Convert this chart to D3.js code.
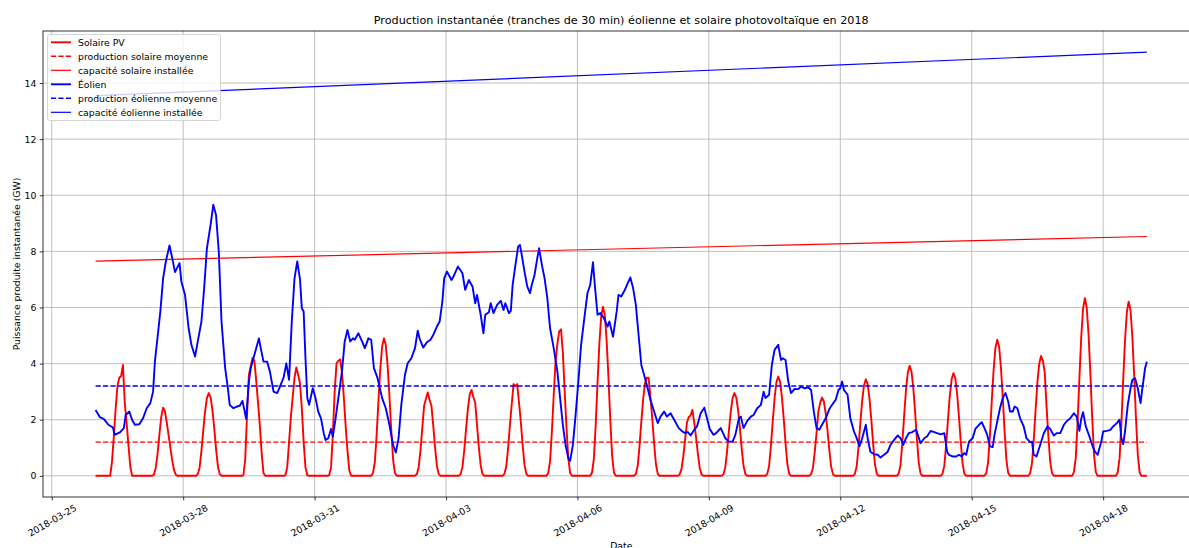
<!DOCTYPE html>
<html>
<head>
<meta charset="utf-8">
<script src="https://cdnjs.cloudflare.com/ajax/libs/d3/7.8.5/d3.min.js"></script>
<style>
    body { margin: 0; background: #ffffff; }
    svg text { font-family: "DejaVu Sans", sans-serif; fill: #000000; }
</style>
</head>
<body>
<svg id="chart" width="1189" height="548"></svg>
<script>
// valeurs (GW)
var debutSerie = "2018-03-26 00:00";
var finSerie = "2018-04-19 00:00";

var jours = ["2018-03-26", "2018-03-27", "2018-03-28", "2018-03-29", "2018-03-30", "2018-03-31",
    "2018-04-01", "2018-04-02", "2018-04-03", "2018-04-04", "2018-04-05", "2018-04-06",
    "2018-04-07", "2018-04-08", "2018-04-09", "2018-04-10", "2018-04-11", "2018-04-12",
    "2018-04-13", "2018-04-14", "2018-04-15", "2018-04-16", "2018-04-17", "2018-04-18"];

// heures de la journée pour le solaire (la nuit reste à 0)
var heuresSolaire = [7, 8, 9, 10, 11, 12, 13, 14, 15, 16, 17, 18, 19, 20, 21];
var solaire = [
    [0, 0, 0.5, 1.4, 2.4, 3.2, 3.5, 3.55, 3.95, 2.6, 1.9, 1.1, 0.35, 0, 0],
    [0, 0.05, 0.3, 0.8, 1.5, 2.1, 2.43, 2.3, 1.9, 1.45, 1.0, 0.55, 0.2, 0.03, 0],
    [0, 0.06, 0.3, 0.89, 1.62, 2.3, 2.77, 2.95, 2.8, 2.36, 1.71, 0.97, 0.35, 0.06, 0],
    [0, 0, 0.02, 0.6, 2.2, 3.6, 3.9, 4.2, 4.1, 3.4, 2.6, 1.8, 0.8, 0.1, 0],
    [0, 0.02, 0.3, 1.2, 2.1, 2.8, 3.5, 3.86, 3.6, 3.3, 2.4, 1.2, 0.3, 0.02, 0],
    [0, 0.02, 0.3, 1.5, 3.0, 4.0, 4.1, 4.15, 3.7, 2.8, 1.8, 0.9, 0.2, 0, 0],
    [0, 0.1, 0.49, 1.47, 2.7, 3.82, 4.61, 4.9, 4.66, 3.92, 2.84, 1.62, 0.59, 0.1, 0],
    [0, 0.06, 0.3, 0.9, 1.7, 2.5, 2.75, 2.97, 2.7, 2.5, 1.8, 1.0, 0.36, 0.06, 0],
    [0, 0.06, 0.31, 0.92, 1.68, 2.4, 2.9, 3.06, 2.8, 2.6, 1.8, 1.0, 0.37, 0.06, 0],
    [0, 0.07, 0.33, 0.98, 1.8, 2.55, 3.27, 3.2, 3.27, 2.6, 1.9, 1.08, 0.39, 0.07, 0],
    [0, 0.1, 0.52, 1.57, 2.87, 4.07, 4.7, 5.15, 5.22, 4.4, 3.03, 1.72, 0.63, 0.1, 0],
    [0, 0.12, 0.6, 1.81, 3.32, 4.7, 5.67, 6.03, 5.73, 4.82, 3.5, 1.99, 0.72, 0.12, 0],
    [0, 0.07, 0.35, 1.05, 1.93, 2.73, 3.3, 3.5, 3.5, 2.8, 2.03, 1.16, 0.42, 0.07, 0],
    [0, 0.05, 0.24, 0.7, 1.3, 1.9, 2.1, 2.15, 2.35, 1.9, 1.36, 0.78, 0.28, 0.05, 0],
    [0, 0.06, 0.3, 0.89, 1.62, 2.3, 2.77, 2.95, 2.8, 2.36, 1.71, 0.97, 0.35, 0.06, 0],
    [0, 0.07, 0.35, 1.06, 1.95, 2.76, 3.33, 3.54, 3.36, 2.83, 2.05, 1.17, 0.42, 0.07, 0],
    [0, 0.06, 0.28, 0.84, 1.53, 2.3, 2.6, 2.79, 2.65, 2.23, 1.62, 0.92, 0.33, 0.06, 0],
    [0, 0.07, 0.34, 1.03, 1.89, 2.68, 3.23, 3.44, 3.27, 2.75, 2.0, 1.14, 0.41, 0.07, 0],
    [0, 0.08, 0.39, 1.18, 2.16, 3.06, 3.68, 3.92, 3.72, 3.14, 2.27, 1.29, 0.47, 0.08, 0],
    [0, 0.07, 0.37, 1.1, 2.01, 2.85, 3.44, 3.66, 3.48, 2.93, 2.12, 1.21, 0.44, 0.07, 0],
    [0, 0.1, 0.49, 1.46, 2.67, 3.78, 4.56, 4.85, 4.61, 3.88, 2.81, 1.6, 0.58, 0.1, 0],
    [0, 0.09, 0.43, 1.28, 2.35, 3.33, 4.0, 4.27, 4.1, 3.7, 2.48, 1.41, 0.51, 0.09, 0],
    [0, 0.13, 0.63, 1.9, 3.48, 4.94, 5.95, 6.33, 6.01, 5.06, 3.67, 2.09, 0.76, 0.13, 0],
    [0, 0.12, 0.62, 1.86, 3.42, 4.84, 5.84, 6.21, 5.9, 4.97, 3.6, 2.05, 0.75, 0.12, 0]
];

// éolien : heures depuis debutSerie / valeur
var heuresEolien = [0, 2.5, 4.5, 7, 9.5, 10.5, 13.5, 15.5, 16.5, 18.5, 20, 21.5, 24, 26, 28, 30, 31.5, 32.5, 34, 35.5,
    37, 38.5, 40.5, 42, 43.5, 46, 47, 49, 51, 52.5, 54.5, 56, 58, 59.5, 61, 63, 64.5, 66, 67.5, 69,
    71, 72.5, 73.5, 75.5, 77.5, 79, 80.5, 82.5, 84, 85, 86.5, 89.5, 90.5, 92, 94, 95.5, 97.5, 99.5, 101, 103,
    104.5, 106, 107.5, 109, 110.5, 112, 113, 114, 115, 116, 117, 119, 120.5, 122, 123.5, 125, 126, 127.5, 129, 130,
    131.5, 133, 135, 136.5, 138, 139.5, 141, 142, 144, 146, 147.5, 149.5, 151, 152.5, 154.5, 157, 159, 161, 163, 164.5,
    166, 167.5, 169.5, 171, 173, 175, 176.5, 177.5, 179.5, 181.5, 183.5, 185, 187, 188.5, 190, 191, 192.5, 195, 196.5, 198.5,
    201, 202.5, 204.5, 206.5, 208, 209, 210.5, 211, 212.5, 213.5, 215.5, 216.5, 218, 220, 222, 223.5, 224.5, 226.5, 227.5, 228.5,
    230, 231.5, 232.5, 233.5, 235, 236.5, 238, 239, 240.5, 242, 243, 244.5, 246, 247.5, 249, 251, 253, 254.5, 256, 257.5,
    259, 260, 261.5, 263, 264.5, 266, 268, 269.5, 271, 272.5, 273.5, 275, 276.5, 278.5, 280.5, 281.5, 283.5, 285.5, 286.5, 288,
    290, 291.5, 293, 294.5, 296, 297.5, 299, 300.5, 302, 304, 306, 308, 309.5, 311.5, 313, 315, 317, 319.5, 321.5, 323,
    324.5, 326, 328, 329.5, 331.5, 333.5, 334.5, 336.5, 338.5, 340, 342.5, 345, 347, 349, 350.5, 352.5, 353.5, 355, 357, 359,
    360.5, 362.5, 364.5, 366, 367, 369, 370.5, 372, 374, 375.5, 376.5, 378, 379.5, 381, 383, 385, 386.5, 388.5, 390.5, 392,
    393.5, 395, 396.5, 398, 400, 402, 403.5, 405.5, 407, 408, 409, 410, 412, 413.5, 415.5, 417, 418.5, 420, 422, 423,
    424.5, 426.5, 428.5, 430, 432, 434, 435.5, 437.5, 439.5, 441, 442.5, 444, 445.5, 447.5, 449.5, 450.5, 452, 454, 455.5, 457.5,
    459.5, 461, 463, 465, 466.5, 467.5, 469.5, 471.5, 473, 474.5, 476, 477, 478.5, 480.5, 482, 484, 485.5, 487, 488.5, 490,
    491.5, 492.5, 494, 495.5, 497, 498.5, 500, 501, 502.5, 503.5, 505, 506.5, 508.5, 510, 512, 513, 514, 515.5, 517.5, 519.5,
    521.5, 523, 525, 526.5, 528.5, 530.5, 532, 534, 536, 537.5, 539, 540, 541, 542.5, 544.5, 546, 547.5, 549, 551, 552,
    554, 556, 557.5, 559.5, 561, 562, 563, 564, 565.5, 567, 568, 569.5, 571, 572.5, 573.5, 575, 576];
var eolien = [2.35, 2.08, 2.03, 1.82, 1.72, 1.46, 1.56, 1.7, 2.17, 2.29, 2.0, 1.82, 1.84, 2.05, 2.41, 2.59, 3.0, 4.07, 4.96, 5.86,
    7.04, 7.64, 8.21, 7.76, 7.26, 7.58, 6.92, 6.45, 5.26, 4.67, 4.25, 4.79, 5.5, 6.69, 8.11, 8.94, 9.66, 9.3, 8.0, 5.5,
    3.84, 3.12, 2.53, 2.41, 2.47, 2.5, 2.67, 2.03, 3.36, 3.84, 4.19, 4.9, 4.55, 4.07, 4.07, 3.72, 3.0, 2.95, 3.18, 3.5,
    4.01, 3.42, 5.5, 7.04, 7.64, 7.0, 5.97, 5.86, 4.19, 2.77, 2.53, 3.12, 2.77, 2.29, 2.05, 1.52, 1.28, 1.34, 1.67, 1.4,
    2.05, 2.77, 3.72, 4.79, 5.2, 4.79, 4.9, 4.85, 5.08, 4.79, 4.55, 4.9, 4.85, 3.84, 3.48, 2.77, 2.41, 1.82, 1.1, 0.83,
    1.34, 2.53, 3.6, 4.01, 4.19, 4.55, 5.17, 4.9, 4.57, 4.76, 4.85, 5.02, 5.32, 5.5, 6.21, 7.04, 7.28, 6.98, 7.16, 7.46,
    7.22, 6.63, 6.98, 6.75, 6.15, 6.45, 5.91, 5.74, 5.08, 5.74, 5.83, 6.15, 5.8, 6.09, 6.24, 5.91, 6.15, 5.8, 5.88, 6.81,
    7.5, 8.17, 8.23, 7.87, 7.28, 6.75, 6.51, 6.81, 7.16, 7.76, 8.11, 7.52, 7.04, 6.33, 5.26, 4.55, 3.72, 2.77, 1.82, 1.1,
    0.63, 0.53, 1.1, 2.17, 3.36, 4.67, 5.74, 6.51, 6.81, 7.61, 6.81, 5.74, 5.8, 5.62, 5.32, 5.5, 4.96, 5.86, 6.45, 6.39,
    6.63, 6.86, 7.07, 6.69, 6.09, 5.02, 3.95, 3.6, 3.24, 2.71, 2.29, 1.88, 2.11, 2.29, 2.11, 2.23, 2.0, 1.7, 1.58, 1.52,
    1.56, 1.44, 1.64, 1.76, 2.23, 2.43, 2.17, 1.67, 1.46, 1.52, 1.7, 1.34, 1.22, 1.22, 1.46, 2.05, 2.11, 1.7, 1.96, 2.11,
    2.17, 2.41, 2.53, 3.0, 2.77, 2.89, 3.95, 4.49, 4.67, 4.13, 4.19, 4.13, 3.36, 2.95, 3.1, 3.09, 3.18, 3.12, 3.15, 3.06,
    2.29, 1.7, 1.64, 1.82, 2.05, 2.38, 2.53, 2.71, 3.06, 3.12, 3.36, 3.06, 2.89, 2.05, 1.58, 1.34, 1.05, 1.34, 1.82, 1.34,
    0.86, 0.77, 0.75, 0.65, 0.75, 0.86, 1.1, 1.28, 1.44, 1.34, 1.1, 1.34, 1.52, 1.56, 1.64, 1.46, 1.16, 1.34, 1.4, 1.6,
    1.56, 1.52, 1.48, 1.52, 0.86, 0.75, 0.69, 0.69, 0.75, 0.69, 0.81, 0.75, 1.22, 1.34, 1.67, 1.82, 1.91, 1.7, 1.46, 1.05,
    1.02, 1.46, 1.94, 2.41, 2.77, 2.95, 2.65, 2.29, 2.29, 2.47, 2.41, 2.05, 1.76, 1.34, 1.2, 1.22, 0.75, 0.69, 1.1, 1.52,
    1.76, 1.67, 1.44, 1.52, 1.52, 1.82, 1.94, 2.05, 2.23, 2.11, 1.6, 2.03, 2.27, 1.76, 1.4, 1.1, 0.86, 0.75, 1.22, 1.58,
    1.6, 1.64, 1.76, 1.88, 2.0, 1.34, 1.13, 1.58, 2.53, 3.12, 3.42, 3.48, 3.12, 2.59, 3.12, 3.84, 4.07];

var moyenneSolaire = 1.2;
var moyenneEolien = 3.2;
var capaciteSolaire = [7.65, 8.53];   // au début et à la fin de la période
var capaciteEolien = [13.55, 15.1];

var ticksDates = ["2018-03-25", "2018-03-28", "2018-03-31", "2018-04-03", "2018-04-06",
    "2018-04-09", "2018-04-12", "2018-04-15", "2018-04-18"];
var ticksPuissance = [0, 2, 4, 6, 8, 10, 12, 14];

var legende = [
    {label: "Solaire PV", color: "#ff0000", width: 1.9, dash: null},
    {label: "production solaire moyenne", color: "#ff0000", width: 1.4, dash: "5.2,2.2"},
    {label: "capacité solaire installée", color: "#ff0000", width: 1.2, dash: null},
    {label: "Éolien", color: "#0000ff", width: 1.9, dash: null},
    {label: "production éolienne moyenne", color: "#0000ff", width: 1.4, dash: "5.2,2.2"},
    {label: "capacité éolienne installée", color: "#0000ff", width: 1.2, dash: null}
];

var W = 1189, H = 548;
// zone du graphique (le bord droit sort de l'image)
var gauche = 43, droite = 1199.5, haut = 31, bas = 497;

var parse = d3.utcParse("%Y-%m-%d %H:%M");
var parseJour = d3.utcParse("%Y-%m-%d");
var t0 = parse(debutSerie), t1 = parse(finSerie);

// séries en points {d, v}
var ptsSolaire = [{d: t0, v: 0}];
jours.forEach(function (j, i) {
    heuresSolaire.forEach(function (h, k) {
        ptsSolaire.push({d: d3.utcHour.offset(parseJour(j), h), v: solaire[i][k]});
    });
});
ptsSolaire.push({d: t1, v: 0});

var ptsEolien = heuresEolien.map(function (h, i) {
    return {d: d3.utcMinute.offset(t0, Math.round(h * 60)), v: eolien[i]};
});

function segment(vals) {
    return [{d: t0, v: vals[0]}, {d: t1, v: vals[vals.length - 1]}];
}

// marges de 5 % comme matplotlib
var dt = (t1 - t0) * 0.05;
var x = d3.scaleUtc()
    .domain([new Date(+t0 - dt), new Date(+t1 + dt)])
    .range([gauche, droite]);

var vmax = d3.max([d3.max(eolien), d3.max(capaciteEolien), d3.max(capaciteSolaire)]);
var y = d3.scaleLinear()
    .domain([-0.05 * vmax, vmax * 1.05])
    .range([bas, haut]);

var svg = d3.select("#chart");
svg.append("rect").attr("width", W).attr("height", H).attr("fill", "#ffffff");

svg.append("defs").append("clipPath").attr("id", "zone")
    .append("rect").attr("x", gauche).attr("y", haut)
    .attr("width", droite - gauche).attr("height", bas - haut);

// grille
var grille = svg.append("g").attr("class", "grid");
grille.selectAll("line.gx")
    .data(ticksDates)
    .enter().append("line")
    .attr("x1", function (d) { return x(parseJour(d)); })
    .attr("x2", function (d) { return x(parseJour(d)); })
    .attr("y1", haut).attr("y2", bas)
    .attr("stroke", "#b0b0b0").attr("stroke-width", 0.8);
grille.selectAll("line.gy")
    .data(ticksPuissance)
    .enter().append("line")
    .attr("x1", gauche).attr("x2", droite)
    .attr("y1", function (d) { return y(d); })
    .attr("y2", function (d) { return y(d); })
    .attr("stroke", "#b0b0b0").attr("stroke-width", 0.8);

// courbes
var ligne = d3.line()
    .x(function (d) { return x(d.d); })
    .y(function (d) { return y(d.v); });

var courbes = svg.append("g").attr("clip-path", "url(#zone)");
var series = [
    {pts: ptsSolaire, style: legende[0]},
    {pts: segment([moyenneSolaire]), style: legende[1]},
    {pts: segment(capaciteSolaire), style: legende[2]},
    {pts: ptsEolien, style: legende[3]},
    {pts: segment([moyenneEolien]), style: legende[4]},
    {pts: segment(capaciteEolien), style: legende[5]}
];
series.forEach(function (s) {
    courbes.append("path")
        .datum(s.pts)
        .attr("d", ligne)
        .attr("fill", "none")
        .attr("stroke", s.style.color)
        .attr("stroke-width", s.style.width)
        .attr("stroke-dasharray", s.style.dash)
        .attr("stroke-linejoin", "round");
});

// axes
var axeX = svg.append("g")
    .attr("transform", "translate(0," + bas + ")")
    .call(d3.axisBottom(x)
        .tickValues(ticksDates.map(function (d) { return parseJour(d); }))
        .tickFormat(d3.utcFormat("%Y-%m-%d"))
        .tickSize(3.3).tickSizeOuter(0));
axeX.select(".domain").remove();
// étiquettes tournées de 30°, centrées sous le tick
axeX.selectAll("text")
    .attr("font-size", "9.3px")
    .attr("text-anchor", "middle")
    .attr("x", 0).attr("y", 0)
    .attr("dy", "0.35em")
    .attr("transform", "translate(0,23.5) rotate(-30)");

var axeY = svg.append("g")
    .attr("transform", "translate(" + gauche + ",0)")
    .call(d3.axisLeft(y).tickValues(ticksPuissance).tickSize(3.3).tickSizeOuter(0));
axeY.select(".domain").remove();
axeY.selectAll("text").attr("font-size", "9.3px").attr("x", -6.6);
svg.selectAll(".tick line").attr("stroke", "#000000").attr("stroke-width", 0.8);

// cadre
svg.append("rect")
    .attr("x", gauche).attr("y", haut)
    .attr("width", droite - gauche).attr("height", bas - haut)
    .attr("fill", "none").attr("stroke", "#000000").attr("stroke-width", 0.8);

// titres
svg.append("text")
    .attr("x", (gauche + droite) / 2).attr("y", 24)
    .attr("text-anchor", "middle").attr("font-size", "11.2px")
    .text("Production instantanée (tranches de 30 min) éolienne et solaire photovoltaïque en 2018");
svg.append("text")
    .attr("transform", "translate(19.5," + (haut + bas) / 2 + ") rotate(-90)")
    .attr("text-anchor", "middle").attr("font-size", "9.3px")
    .text("Puissance produite instantanée (GW)");
svg.append("text")
    .attr("x", (gauche + droite) / 2).attr("y", 548.5)
    .attr("text-anchor", "middle").attr("font-size", "9.3px")
    .text("Date");

// légende
var leg = svg.append("g");
leg.append("rect")
    .attr("x", 47.5).attr("y", 34.5).attr("width", 173).attr("height", 86)
    .attr("rx", 2.5)
    .attr("fill", "#ffffff").attr("fill-opacity", 0.8)
    .attr("stroke", "#cccccc").attr("stroke-width", 0.8);
var items = leg.selectAll("g.item")
    .data(legende)
    .enter().append("g")
    .attr("transform", function (d, i) { return "translate(0," + (42.3 + i * 14) + ")"; });
items.append("line")
    .attr("x1", 51).attr("x2", 71)
    .attr("stroke", function (d) { return d.color; })
    .attr("stroke-width", function (d) { return d.width; })
    .attr("stroke-dasharray", function (d) { return d.dash; });
items.append("text")
    .attr("x", 78).attr("y", 3.3)
    .attr("font-size", "9.3px")
    .text(function (d) { return d.label; });
</script>
</body>
</html>
